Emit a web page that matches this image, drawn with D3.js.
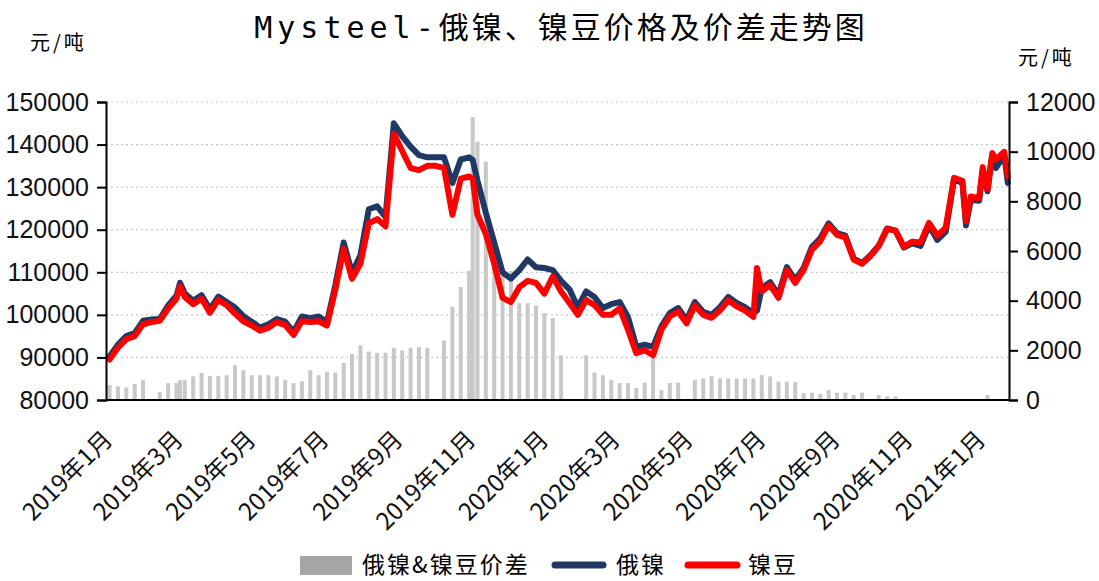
<!DOCTYPE html>
<html>
<head>
<meta charset="utf-8">
<script src="https://cdn.jsdelivr.net/npm/d3@7/dist/d3.min.js"></script>
<style>
  body { margin: 0; background: #fff; }
  svg { display: block; }
</style>
</head>
<body>
<svg id="chart" width="1099" height="581"></svg>
<script>
// 日期（周度读数）
const dates = [
  "2019-01-04","2019-01-11","2019-01-18","2019-01-25","2019-02-01","2019-02-08","2019-02-15","2019-02-22",
  "2019-03-01","2019-03-04","2019-03-08","2019-03-15","2019-03-22","2019-03-29","2019-04-05","2019-04-12",
  "2019-04-19","2019-04-26","2019-05-03","2019-05-10","2019-05-17","2019-05-24","2019-05-31","2019-06-07",
  "2019-06-14","2019-06-21","2019-06-28","2019-07-05","2019-07-12","2019-07-19","2019-07-26","2019-08-02",
  "2019-08-09","2019-08-16","2019-08-23","2019-08-30","2019-09-06","2019-09-13","2019-09-20","2019-09-27",
  "2019-10-04","2019-10-11","2019-10-18","2019-10-25","2019-11-01","2019-11-04","2019-11-08","2019-11-15",
  "2019-11-22","2019-11-29","2019-12-06","2019-12-13","2019-12-20","2019-12-27",
  "2020-01-03","2020-01-10","2020-01-17","2020-01-24","2020-01-31","2020-02-07","2020-02-14","2020-02-21",
  "2020-02-28","2020-03-06","2020-03-13","2020-03-20","2020-03-27","2020-04-03","2020-04-10","2020-04-17",
  "2020-04-24","2020-05-01","2020-05-08","2020-05-15","2020-05-22","2020-05-29","2020-06-05","2020-06-12",
  "2020-06-19","2020-06-26","2020-06-29","2020-07-03","2020-07-10","2020-07-17","2020-07-24","2020-07-31",
  "2020-08-07","2020-08-14","2020-08-21","2020-08-28","2020-09-04","2020-09-11","2020-09-18","2020-09-25",
  "2020-10-02","2020-10-09","2020-10-16","2020-10-23","2020-10-30","2020-11-06","2020-11-13","2020-11-20",
  "2020-11-27","2020-12-04","2020-12-11","2020-12-18","2020-12-21","2020-12-25",
  "2021-01-01","2021-01-04","2021-01-08","2021-01-12","2021-01-15","2021-01-22","2021-01-25"
];

// 俄镍 元/吨
const ruNickel = [
  90200, 93000, 95000, 95700, 98600, 98900, 99000, 102200,
  104500, 107500, 105000, 103300, 104600, 101300, 104300, 103000,
  101700, 99700, 98400, 97000, 97800, 99000, 98400, 96000,
  99600, 99200, 99600, 98300, 107000, 117000, 109800, 114000,
  124800, 125500, 123000, 145000, 142000, 139500, 137500, 137000,
  137000, 137000, 131000, 136500, 137000, 136400, 131500, 124000,
  117000, 110000, 108500, 110500, 113000, 111200,
  111000, 110500, 108000, 106000, 101800, 105500, 104200, 101600,
  102500, 103000, 99500, 92500, 93000, 92500, 97300, 100400,
  101600, 98800, 103000, 100700, 100000, 101800, 104200, 102800,
  101800, 100400, 101000, 106300, 107700, 104700, 111200, 108200,
  111000, 116000, 118000, 121500, 119200, 118600, 113200, 112200,
  114000, 116300, 120300, 119800, 115800, 116800, 116200, 121000,
  117600, 119500, 131800, 131000, 121000, 127000,
  126800, 134000, 129000, 137500, 134500, 137500, 131000
];

// 镍豆 元/吨
const nickelBean = [
  89500, 92300, 94300, 95000, 97800, 98300, 98600, 101500,
  103800, 106700, 104200, 102500, 103800, 100500, 103500, 102300,
  100300, 98500, 97500, 96300, 97000, 98300, 97600, 95300,
  98500, 98300, 98500, 97500, 106000, 115500, 108500, 112000,
  121500, 122500, 120800, 142500, 138500, 134500, 134000, 135000,
  135000, 134500, 123500, 132000, 132500, 132000, 123500, 119000,
  112000, 104000, 103000, 106500, 108000, 107500,
  105000, 109000, 105500, 102800, 100000, 103500, 102300, 100000,
  100000, 101500, 96500, 91000, 91700, 90500, 96500, 99600,
  100800, 98000, 102200, 100000, 99300, 101000, 103400, 102000,
  101000, 99500, 111000, 105500, 107000, 104000, 110500, 107500,
  110500, 115300, 117300, 121000, 118800, 118200, 113000, 112000,
  113800, 116200, 120200, 119800, 116000, 117200, 117000, 121600,
  118600, 120500, 132200, 131500, 122000, 127800,
  127400, 134700, 129500, 138000, 136500, 138300, 132500
];

// 俄镍&镍豆价差 元/吨（null = 无数据）
const spread = [
  600, 550, 500, 650, 800, null, 320, 680,
  680, 800, 800, 950, 1090, 970, 970, 1000,
  1400, 1200, 1000, 1000, 1000, 950, 800, 680,
  750, 1200, 1000, 1130, 1100, 1490, 1850, 2200,
  1950, 1900, 1900, 2100, 2000, 2100, 2130, 2100,
  null, 2400, 3750, 4550, 5200, 11400, 10400, 9600,
  6000, 5100, 5200, 3900, 3900, 3800,
  3500, 3300, 1800, null, null, 1800, 1100, 1000,
  800, 680, 680, 480, 700, 1900, 400, 680,
  700, null, 800, 870, 960, 870, 870, 870,
  870, 870, null, 1000, 950, 740, 740, 720,
  280, 300, 250, 400, 300, 300, 200, 300,
  null, 200, 150, 150, null, null, null, null,
  null, null, null, null, null, null,
  null, null, 200, null, null, null, null
];

const leftTicks = [80000, 90000, 100000, 110000, 120000, 130000, 140000, 150000];
const rightTicks = [0, 2000, 4000, 6000, 8000, 10000, 12000];
const monthTicks = ["2019-01-01","2019-03-01","2019-05-01","2019-07-01","2019-09-01","2019-11-01",
  "2020-01-01","2020-03-01","2020-05-01","2020-07-01","2020-09-01","2020-11-01","2021-01-01"];

const parse = d3.timeParse("%Y-%m-%d");
const rows = dates.map((d, i) => ({
  date: parse(d), ru: ruNickel[i], bean: nickelBean[i], diff: spread[i]
}));

const svg = d3.select("#chart");
const plot = {left: 106, right: 1009, top: 102, bottom: 400};

const x = d3.scaleTime()
  .domain([parse("2019-01-01"), parse("2021-01-26")])
  .range([plot.left, plot.right]);
const yL = d3.scaleLinear().domain([80000, 150000]).range([plot.bottom, plot.top]);
const yR = d3.scaleLinear().domain([0, 12000]).range([plot.bottom, plot.top]);

const numFont = "'Liberation Sans', Arial, sans-serif";
const cjkFont = "'Noto Sans CJK SC', 'Noto Sans', sans-serif";

// 标题
const title = svg.append("text")
  .attr("x", 561).attr("y", 38)
  .attr("text-anchor", "middle")
  .style("font-family", cjkFont)
  .style("font-size", "30px")
  .style("letter-spacing", "3px");
title.append("tspan")
  .style("font-family", "'DejaVu Sans Mono', monospace")
  .style("letter-spacing", "5px")
  .text("Mysteel-");
title.append("tspan").text("俄镍、镍豆价格及价差走势图");

// 单位
svg.append("text").attr("x", 30).attr("y", 50)
  .style("font-family", cjkFont).style("font-size", "20px").style("letter-spacing", "3px").text("元/吨");
svg.append("text").attr("x", 1018).attr("y", 65)
  .style("font-family", cjkFont).style("font-size", "20px").style("letter-spacing", "3px").text("元/吨");

// 网格线
svg.append("g")
  .selectAll("line")
  .data(leftTicks.filter(t => t > 80000))
  .join("line")
  .attr("x1", plot.left).attr("x2", plot.right)
  .attr("y1", d => yL(d)).attr("y2", d => yL(d))
  .attr("stroke", "#c8c8c8")
  .attr("stroke-width", 1.2)
  .attr("stroke-dasharray", "2,3");

// 价差柱
svg.append("g")
  .selectAll("rect")
  .data(rows.filter(d => d.diff != null))
  .join("rect")
  .attr("x", d => x(d.date) - 2)
  .attr("width", 4)
  .attr("y", d => yR(d.diff))
  .attr("height", d => plot.bottom - yR(d.diff))
  .attr("fill", "#c8c8c8");

// 折线
const lineRu = d3.line().x(d => x(d.date)).y(d => yL(d.ru));
const lineBean = d3.line().x(d => x(d.date)).y(d => yL(d.bean));

svg.append("path")
  .datum(rows)
  .attr("d", lineRu)
  .attr("fill", "none")
  .attr("stroke", "#203864")
  .attr("stroke-width", 6)
  .attr("stroke-linejoin", "round")
  .attr("stroke-linecap", "round");

svg.append("path")
  .datum(rows)
  .attr("d", lineBean)
  .attr("fill", "none")
  .attr("stroke", "#ff0000")
  .attr("stroke-width", 6)
  .attr("stroke-linejoin", "round")
  .attr("stroke-linecap", "round");

// 左轴
const axisL = svg.append("g")
  .attr("transform", `translate(${plot.left},0)`)
  .call(d3.axisLeft(yL).tickValues(leftTicks).tickSize(9).tickPadding(8).tickFormat(d3.format("d")));
axisL.select(".domain").attr("stroke", "#000").attr("stroke-width", 2);
axisL.selectAll(".tick line").attr("stroke", "#000").attr("stroke-width", 2);
axisL.selectAll("text").style("font-family", numFont).style("font-size", "25px").attr("fill", "#111");

// 右轴
const axisR = svg.append("g")
  .attr("transform", `translate(${plot.right},0)`)
  .call(d3.axisRight(yR).tickValues(rightTicks).tickSize(9).tickPadding(8).tickFormat(d3.format("d")));
axisR.select(".domain").attr("stroke", "#000").attr("stroke-width", 2);
axisR.selectAll(".tick line").attr("stroke", "#000").attr("stroke-width", 2);
axisR.selectAll("text").style("font-family", numFont).style("font-size", "25px").attr("fill", "#111");

// 底轴
svg.append("line")
  .attr("x1", plot.left).attr("x2", plot.right)
  .attr("y1", plot.bottom).attr("y2", plot.bottom)
  .attr("stroke", "#000").attr("stroke-width", 2);

// 月份标签
const fmtLabel = d => `${d.getFullYear()}年${d.getMonth() + 1}月`;
svg.append("g")
  .selectAll("text")
  .data(monthTicks.map(parse))
  .join("text")
  .attr("transform", d => `translate(${x(d) + 2},${435}) rotate(-45)`)
  .attr("text-anchor", "end")
  .attr("dy", "0.35em")
  .style("font-family", cjkFont)
  .style("font-size", "24px")
  .attr("fill", "#111")
  .text(fmtLabel);

// 图例
const legend = svg.append("g").style("font-family", cjkFont).style("font-size", "23px").style("letter-spacing", "2px");
legend.append("rect").attr("x", 300).attr("y", 556).attr("width", 52).attr("height", 19).attr("fill", "#a6a6a6");
legend.append("text").attr("x", 362).attr("y", 573).text("俄镍&镍豆价差");
legend.append("line").attr("x1", 555).attr("x2", 603).attr("y1", 565).attr("y2", 565)
  .attr("stroke", "#203864").attr("stroke-width", 7).attr("stroke-linecap", "round");
legend.append("text").attr("x", 616).attr("y", 573).text("俄镍");
legend.append("line").attr("x1", 688).attr("x2", 737).attr("y1", 565).attr("y2", 565)
  .attr("stroke", "#ff0000").attr("stroke-width", 7).attr("stroke-linecap", "round");
legend.append("text").attr("x", 748).attr("y", 573).text("镍豆");
</script>
</body>
</html>
